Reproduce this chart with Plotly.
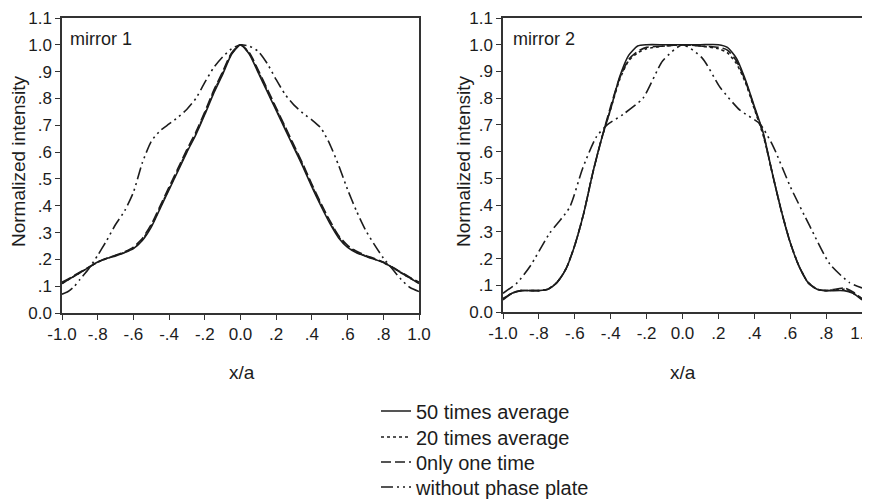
import plotly.graph_objects as go

# ---- mirror 1 ----
m1_x = [-1.0, -0.95, -0.9, -0.85, -0.8, -0.75, -0.7, -0.65, -0.6, -0.55, -0.5, -0.45, -0.4,
        -0.35, -0.3, -0.25, -0.2, -0.15, -0.1, -0.05, 0.0, 0.05, 0.1, 0.15, 0.2, 0.25, 0.3,
        0.35, 0.4, 0.45, 0.5, 0.55, 0.6, 0.65, 0.7, 0.75, 0.8, 0.85, 0.9, 0.95, 1.0]
m1_avg50 = [0.11, 0.13, 0.15, 0.17, 0.19, 0.203, 0.213, 0.225, 0.24, 0.27, 0.32, 0.39, 0.46,
            0.53, 0.60, 0.665, 0.74, 0.82, 0.89, 0.965, 1.0, 0.965, 0.895, 0.825, 0.755, 0.685, 0.615,
            0.545, 0.47, 0.40, 0.335, 0.28, 0.245, 0.225, 0.212, 0.20, 0.188, 0.17, 0.15, 0.13, 0.11]
m1_avg20 = [0.11, 0.13, 0.15, 0.17, 0.19, 0.203, 0.214, 0.226, 0.242, 0.273, 0.324, 0.394, 0.464,
            0.534, 0.604, 0.67, 0.745, 0.825, 0.895, 0.967, 1.0, 0.967, 0.9, 0.83, 0.76, 0.69, 0.62,
            0.55, 0.475, 0.405, 0.34, 0.284, 0.248, 0.227, 0.213, 0.201, 0.188, 0.17, 0.15, 0.13, 0.112]
m1_once = [0.115, 0.133, 0.152, 0.171, 0.19, 0.204, 0.215, 0.228, 0.246, 0.278, 0.33, 0.40, 0.47,
           0.54, 0.61, 0.675, 0.75, 0.83, 0.90, 0.97, 1.0, 0.97, 0.905, 0.835, 0.765, 0.695, 0.625,
           0.555, 0.48, 0.41, 0.345, 0.288, 0.252, 0.23, 0.215, 0.203, 0.19, 0.172, 0.152, 0.133, 0.115]

m1_plate_x = [-1.0, -0.966, -0.93, -0.9, -0.85, -0.8, -0.75, -0.7, -0.65, -0.6, -0.55, -0.5,
              -0.45, -0.4, -0.35, -0.3, -0.25, -0.2, -0.15, -0.1, -0.05, 0.0, 0.05, 0.1, 0.15,
              0.2, 0.25, 0.3, 0.35, 0.4, 0.45, 0.5, 0.55, 0.6, 0.65, 0.7, 0.75, 0.8, 0.85, 0.9,
              0.95, 1.0]
m1_plate = [0.07, 0.08, 0.10, 0.125, 0.165, 0.215, 0.27, 0.33, 0.38, 0.45, 0.56, 0.64,
            0.68, 0.705, 0.73, 0.76, 0.80, 0.86, 0.915, 0.955, 0.985, 1.0, 0.995, 0.975, 0.93,
            0.87, 0.815, 0.775, 0.745, 0.72, 0.69, 0.63, 0.55, 0.46, 0.38, 0.31, 0.255, 0.205,
            0.165, 0.125, 0.095, 0.08]

# ---- mirror 2 ----
m2_x = [-1.0, -0.95, -0.9, -0.8, -0.75, -0.7, -0.65, -0.6, -0.55, -0.5, -0.45, -0.4,
        -0.35, -0.3, -0.25, -0.2, -0.1, 0.0, 0.1, 0.2, 0.25, 0.3, 0.35, 0.4, 0.45,
        0.5, 0.55, 0.6, 0.65, 0.7, 0.75, 0.8, 0.9, 0.95, 1.0]
m2_avg50 = [0.045, 0.07, 0.08, 0.08, 0.085, 0.11, 0.16, 0.25, 0.37, 0.52, 0.65, 0.76,
            0.88, 0.96, 0.995, 1.0, 1.0, 1.0, 1.0, 1.0, 0.99, 0.95, 0.87, 0.77, 0.67,
            0.52, 0.38, 0.26, 0.17, 0.11, 0.085, 0.08, 0.08, 0.07, 0.045]
m2_avg20 = [0.05, 0.07, 0.08, 0.08, 0.085, 0.11, 0.16, 0.25, 0.37, 0.52, 0.65, 0.76,
            0.87, 0.94, 0.97, 0.985, 0.995, 1.0, 0.995, 0.985, 0.97, 0.93, 0.86, 0.76, 0.66,
            0.52, 0.38, 0.26, 0.17, 0.11, 0.085, 0.08, 0.085, 0.07, 0.05]
m2_once = [0.05, 0.07, 0.08, 0.08, 0.085, 0.11, 0.16, 0.25, 0.37, 0.52, 0.65, 0.77,
           0.875, 0.945, 0.975, 0.99, 0.995, 1.0, 0.995, 0.99, 0.98, 0.94, 0.865, 0.765, 0.665,
           0.52, 0.38, 0.26, 0.17, 0.11, 0.085, 0.08, 0.09, 0.075, 0.05]

m2_plate_x = [-1.0, -0.92, -0.85, -0.74, -0.63, -0.555, -0.48, -0.42, -0.33, -0.22,
              -0.11, 0.0, 0.11, 0.21, 0.32, 0.43, 0.505, 0.6, 0.71, 0.82, 0.93, 1.0]
m2_plate = [0.07, 0.11, 0.17, 0.295, 0.39, 0.54, 0.655, 0.70, 0.74, 0.80,
            0.94, 1.0, 0.95, 0.84, 0.755, 0.705, 0.62, 0.47, 0.32, 0.18, 0.11, 0.09]

x_ticks = [-1.0, -0.8, -0.6, -0.4, -0.2, 0.0, 0.2, 0.4, 0.6, 0.8, 1.0]
x_labels = ["-1.0", "-.8", "-.6", "-.4", "-.2", "0.0", ".2", ".4", ".6", ".8", "1.0"]
y_ticks = [0.0, 0.1, 0.2, 0.3, 0.4, 0.5, 0.6, 0.7, 0.8, 0.9, 1.0, 1.1]
y_labels = ["0.0", ".1", ".2", ".3", ".4", ".5", ".6", ".7", ".8", ".9", "1.0", "1.1"]

series_names = ["50 times average", "20 times average", "0nly one time", "without phase plate"]

INK = "#1c1c1c"
FONT = "Liberation Sans, Arial, sans-serif"
styles = [
    dict(dash="solid", width=1.6),
    dict(dash="dot", width=1.6),
    dict(dash="10px,4px", width=1.6),
    dict(dash="12px,4px,2px,4px,2px,4px", width=1.6),
]
legend_ids = ["legend", "legend2", "legend3", "legend4"]

fig = go.Figure()

panels = [
    ("x", "y", [(m1_x, m1_avg50), (m1_x, m1_avg20), (m1_x, m1_once), (m1_plate_x, m1_plate)]),
    ("x2", "y2", [(m2_x, m2_avg50), (m2_x, m2_avg20), (m2_x, m2_once), (m2_plate_x, m2_plate)]),
]
for pi, (xa, ya, curves) in enumerate(panels):
    for i, (cx, cy) in enumerate(curves):
        fig.add_trace(go.Scatter(
            x=cx, y=cy, xaxis=xa, yaxis=ya, mode="lines",
            line=dict(color=INK, shape="spline", smoothing=0.6, **styles[i]),
            name=series_names[i], legend=legend_ids[i], showlegend=(pi == 0),
        ))

# the page puts the plot 8px in from the top-left corner
W, H, OFF = 870, 500, 8
def px(a, b):
    return [(a - OFF) / W, (b - OFF) / W]
def py(top, bottom):
    return [1 - (bottom - OFF) / H, 1 - (top - OFF) / H]

axis_common = dict(
    showgrid=False, zeroline=False, showline=True, mirror=True,
    linecolor="#333", linewidth=1.5, ticks="outside", ticklen=5,
    tickcolor="#333", tickwidth=1.2, automargin=False,
    tickfont=dict(family=FONT, size=17, color=INK),
)

# one small legend per entry so the rows sit at the reference spacing
legend_rows = [411, 437, 462, 487]
legends = {}
for lid, row in zip(legend_ids, legend_rows):
    legends[lid] = dict(x=(376 - OFF) / W, y=1 - (row - OFF) / H, xanchor="left", yanchor="middle",
                        bgcolor="rgba(0,0,0,0)", font=dict(family=FONT, size=20, color=INK),
                        itemwidth=30)

fig.update_layout(
    width=W, height=H,
    margin=dict(l=0, r=0, t=0, b=0),
    paper_bgcolor="white", plot_bgcolor="white",
    font=dict(family=FONT, color=INK),
    xaxis=dict(domain=px(62, 419), range=[-1.0, 1.0], tickvals=x_ticks, ticktext=x_labels,
               anchor="y", **axis_common),
    yaxis=dict(domain=py(18, 313), range=[0.0, 1.1], tickvals=y_ticks, ticktext=y_labels,
               anchor="x", **axis_common),
    xaxis2=dict(domain=px(503, 862), range=[-1.0, 1.0], tickvals=x_ticks, ticktext=x_labels,
                anchor="y2", **axis_common),
    yaxis2=dict(domain=py(18, 312), range=[0.0, 1.1], tickvals=y_ticks, ticktext=y_labels,
                anchor="x2", **axis_common),
    showlegend=True,
    **legends,
)

labels = [
    ("mirror 1", 68, 39, "left", 0, 18),
    ("mirror 2", 511, 39, "left", 0, 18),
    ("x/a", 242, 372, "center", 0, 19),
    ("x/a", 683, 372, "center", 0, 19),
    ("Normalized intensity", 18, 161, "center", -90, 19),
    ("Normalized intensity", 463, 161, "center", -90, 19),
]
for text, lx, ly, anchor, ang, size in labels:
    fig.add_annotation(text=text, x=(lx - OFF) / W, y=1 - (ly - OFF) / H,
                       xref="paper", yref="paper",
                       xanchor=anchor, yanchor="middle", showarrow=False, textangle=ang,
                       font=dict(family=FONT, size=size, color=INK))

fig.write_html("out.html")
